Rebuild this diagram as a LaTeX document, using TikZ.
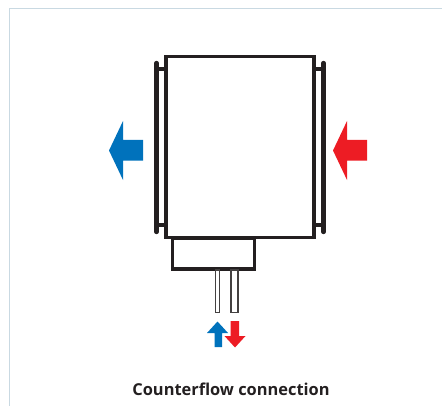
\documentclass[tikz,border=0pt]{standalone}
\usepackage{fontspec}
\setmainfont{Open Sans}
\usepackage{tikz}
\definecolor{framegray}{HTML}{C9D9E2}
\definecolor{flowblue}{HTML}{0072BC}
\definecolor{flowred}{HTML}{ED1C24}
\definecolor{inkblack}{HTML}{231F20}

\begin{document}
\begin{tikzpicture}[
    x=0.75pt, y=-0.75pt,
    unit/.style={draw=inkblack, line width=2.4pt},
    bracket/.style={draw=inkblack, line width=3.2pt, line cap=round},
    strut/.style={draw=inkblack, line width=2.4pt},
    pipe/.style={draw=inkblack!85, line width=1.1pt},
    flow/.style={draw=none}
]
\useasboundingbox (0,0) rectangle (442,406);

% Frame
\draw[framegray, line width=0.8pt] (9.5,406) -- (9.5,8.5) -- (442,8.5);

% Main body and terminal box
\draw[unit] (166,56.5) rectangle (314,237.5);
\draw[unit] (172.5,238) rectangle (254.5,269);

% Side flanges
\draw[bracket] (156.5,63) -- (156.5,232);
\draw[bracket] (323.5,63) -- (323.5,232);
\draw[strut] (156.5,69) -- (166,69);
\draw[strut] (156.5,225) -- (166,225);
\draw[strut] (314,69) -- (323.5,69);
\draw[strut] (314,225) -- (323.5,225);

% Pipes
\draw[pipe] (215.7,270) rectangle (219.7,312.5);
\draw[pipe] (231,270) rectangle (238,312.5);

% Large arrows
\fill[flowblue, flow] (109,150.5) -- (123,121) -- (123,140) -- (143,140) -- (143,160.5) -- (123,160.5) -- (123,180) -- cycle;
\fill[flowred, flow] (333,150.5) -- (347,121) -- (347,140) -- (367,140) -- (367,160.5) -- (347,160.5) -- (347,180) -- cycle;

% Small arrows
\fill[flowblue, flow] (217.5,321.5) -- (228,333) -- (222,333) -- (222,347) -- (214.5,347) -- (214.5,333) -- (207,333) -- cycle;
\fill[flowred, flow] (235,347.5) -- (245.5,336) -- (239,336) -- (239,321) -- (230.5,321) -- (230.5,336) -- (224.5,336) -- cycle;

% Caption
\node[font=\fontsize{12.3pt}{14pt}\selectfont\bfseries, text=inkblack, inner sep=0pt] (caption) at (231,389) {Counterflow connection};
\end{tikzpicture}
\end{document}
